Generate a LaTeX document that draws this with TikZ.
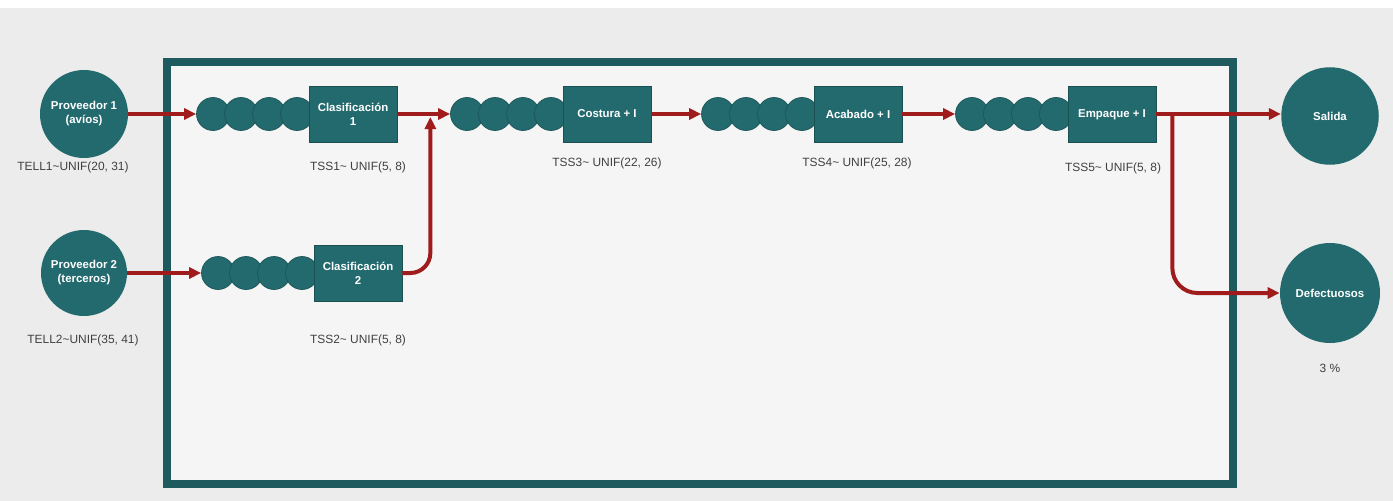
\documentclass[tikz,border=0pt]{standalone}
\usepackage{fontspec}
\setmainfont{Liberation Sans}
\usetikzlibrary{positioning,arrows.meta}
\definecolor{verdeazul}{HTML}{236A6E}
\definecolor{rojoflecha}{HTML}{A01C1C}
\definecolor{fondo}{HTML}{ECECEC}
\tikzset{
    estacion/.style={draw=verdeazul!75!black, fill=verdeazul, minimum width=1.76cm, minimum height=1.12cm,
        inner sep=0pt, align=center, text=white, font=\fontsize{6.5}{8}\selectfont\bfseries},
    cola/.style={circle, draw=verdeazul!80!black, fill=verdeazul, minimum size=0.66cm, inner sep=0pt},
    fuente/.style={circle, fill=verdeazul, inner sep=0pt, align=center, text=white,
        font=\fontsize{6.5}{8}\selectfont\bfseries},
    flecha/.style={draw=rojoflecha, line width=0.08cm, -{Triangle[length=0.24cm,width=0.22cm]}},
    dato/.style={text=black!75, font=\fontsize{6.8}{8}\selectfont}
}
\begin{document}
\begin{tikzpicture}[scale = 1]
            \useasboundingbox (0,0) rectangle (27.86,-10.02);
            \fill[white] (0,0) rectangle (27.86,-10.02);
            \fill[fondo] (0,-0.16) rectangle (27.86,-10.02);
            \fill[black!4] (3.34,-1.24) rectangle (24.66,-9.68);
            \draw[verdeazul!85!black, line width=0.15cm] (3.34,-1.24) rectangle (24.66,-9.68);
            \foreach \q/\x/\y in {a/7.06/-2.28, b/7.16/-5.46, c/12.14/-2.28, d/17.16/-2.28, e/22.24/-2.28} {
                \foreach \i in {1,...,4} {
                    \node[cola] (cola\q\i) at (\x-1.12-0.56*4+0.56*\i, \y) {};
                }
            }
            \node[fuente, minimum size=1.76cm] (prov1) at (1.68,-2.28) {Proveedor 1\\(avíos)};
            \node[fuente, minimum size=1.72cm] (prov2) at (1.68,-5.46) {Proveedor 2\\(terceros)};
            \node[estacion] (clas1) at (7.06,-2.28) {Clasificación\\1};
            \node[estacion] (clas2) at (7.16,-5.46) {Clasificación\\2};
            \node[estacion] (costura) at (12.14,-2.28) {Costura + I};
            \node[estacion] (acabado) at (17.16,-2.28) {Acabado + I};
            \node[estacion, text depth=0pt] (empaque) at (22.24,-2.28) {Empaque + I};
            \node[fuente, minimum size=1.95cm] (salida) at (26.6,-2.32) {Salida};
            \node[fuente, minimum size=2.0cm] (defect) at (26.6,-5.86) {Defectuosos};
            \draw[flecha] (prov1.east) -- (colaa1.west);
            \draw[flecha] (prov2.east) -- (colab1.west);
            \draw[flecha] (clas1.east) -- (colac1.west);
            \draw[flecha] (costura.east) -- (colad1.west);
            \draw[flecha] (acabado.east) -- (colae1.west);
            \coordinate[below right=0.06cm and 0.66cm of clas1.east] (union);
            \draw[flecha, rounded corners=0.4cm] (clas2.east) -| (union);
            \draw[flecha] (empaque.east) -- (empaque.east -| salida.west);
            \coordinate[right=0.32cm of empaque.east] (bifurca);
            \draw[flecha, rounded corners=0.5cm] (bifurca) |- (defect.west);
            \node[dato] (tell1) at (1.46,-3.34) {TELL1\textasciitilde UNIF(20, 31)};
            \node[dato] (tell2) at (1.66,-6.80) {TELL2\textasciitilde UNIF(35, 41)};
            \node[dato] (tss1) at (7.16,-3.34) {TSS1\textasciitilde{} UNIF(5, 8)};
            \node[dato] (tss2) at (7.16,-6.80) {TSS2\textasciitilde{} UNIF(5, 8)};
            \node[dato] (tss3) at (12.14,-3.26) {TSS3\textasciitilde{} UNIF(22, 26)};
            \node[dato] (tss4) at (17.14,-3.26) {TSS4\textasciitilde{} UNIF(25, 28)};
            \node[dato] (tss5) at (22.26,-3.36) {TSS5\textasciitilde{} UNIF(5, 8)};
            \node[dato] (porcentaje) at (26.6,-7.36) {3 \%};
        \end{tikzpicture}
\end{document}
